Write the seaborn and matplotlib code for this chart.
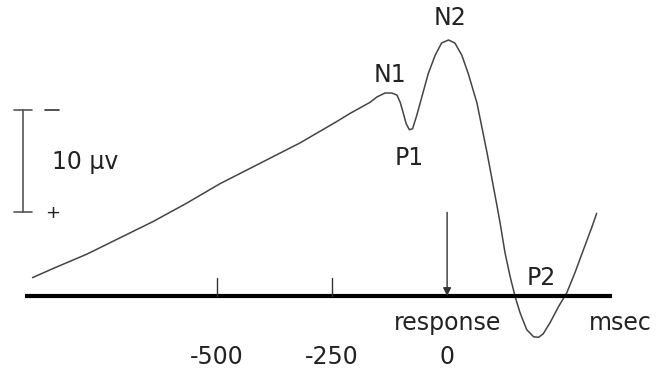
import numpy as np
import pandas as pd
import seaborn as sns
import matplotlib.pyplot as plt

# ERP waveform (time in msec, amplitude in µV, negative drawn up)
time_ms = [-901, -856, -783, -711, -639, -566, -494, -407, -320, -240, -211, -167,
           -153, -135, -120, -109, -102, -95, -89, -82, -75, -66, -55, -41, -26,
           -12, 3, 17, 32, 46, 65, 87, 109, 115, 126, 137, 148, 159, 173, 188,
           199, 209, 224, 242, 260, 278, 296, 315, 325]
amplitude_uv = [-1.8, -2.7, -4.1, -5.7, -7.3, -9.1, -11.0, -13.0, -15.0, -17.1, -17.9, -19.0,
                -19.5, -19.9, -19.9, -19.7, -19.0, -17.9, -16.9, -16.3, -16.4, -17.7, -19.5, -21.8, -23.6,
                -24.8, -25.1, -24.8, -23.6, -21.8, -18.9, -14.0, -8.7, -7.2, -4.2, -1.9, 0.1, 1.7, 3.3, 4.0,
                4.05, 3.7, 2.6, 1.05, -0.3, -2.3, -4.5, -6.8, -8.1]

# components: name, time, amplitude of label
comp_names = ["N1", "P1", "N2", "P2"]
comp_time = [-124, -83, 6, 204]
comp_label_uv = [-21.7, -13.5, -27.3, -1.8]

tick_ms = [-500, -250, 0]
tick_labels = ["-500", "-250", "0"]
response_ms = 0
response_arrow_from = -8.2
scale_top, scale_bottom = -18.2, -8.2   # 10 µV calibration bar
baseline_range = (-917, 359)

sns.set_theme(style="white")
plt.rcParams['font.family'] = ['DejaVu Sans']

fig = plt.figure(figsize=(6.56, 3.68), dpi=100)
ax = fig.add_axes([0, 0, 1, 1])

df = pd.DataFrame({"time": time_ms, "uv": amplitude_uv})
sns.lineplot(data=df, x="time", y="uv", color="#444444", linewidth=1.1, ax=ax, sort=False)

# baseline
ax.plot(baseline_range, [0, 0], color="black", linewidth=3, solid_capstyle="butt")
# small ticks (no tick at 0, the arrow marks it)
for t in tick_ms[:-1]:
    ax.plot([t, t], [0, -1.76], color="#333333", linewidth=1)
for t, lab in zip(tick_ms, tick_labels):
    ax.text(t, 6.0, lab, ha="center", va="center", fontsize=17, color="#222222")

# response arrow
ax.annotate("", xy=(response_ms, 0), xytext=(response_ms, response_arrow_from),
            arrowprops=dict(arrowstyle="-|>", color="#333333", lw=1, mutation_scale=12,
                            shrinkA=0, shrinkB=0))
ax.text(response_ms, 2.65, "response", ha="center", va="center", fontsize=17, color="#222222")
ax.text(376, 2.65, "msec", ha="center", va="center", fontsize=17, color="#222222")

# component labels
for name, t, v in zip(comp_names, comp_time, comp_label_uv):
    ax.text(t, v, name, ha="center", va="center", fontsize=17, color="#222222")

# calibration bar
ax.plot([-922, -922], [scale_top, scale_bottom], color="#555555", linewidth=1.2)
ax.plot([-941, -902], [scale_top, scale_top], color="#555555", linewidth=1.2)
ax.plot([-941, -902], [scale_bottom, scale_bottom], color="#555555", linewidth=1.2)
ax.plot([-874, -843], [scale_top, scale_top], color="#333333", linewidth=1.2)
ax.text(-858, scale_bottom + 0.1, "+", ha="center", va="center", fontsize=13, color="#222222")
ax.text(-787, -13.1, "10 µv", ha="center", va="center", fontsize=17, color="#222222")

ax.set_xlim(-971.7, 454)
ax.set_ylim(7.06, -29.02)
ax.set_axis_off()

fig.savefig("out.png", dpi=100)
